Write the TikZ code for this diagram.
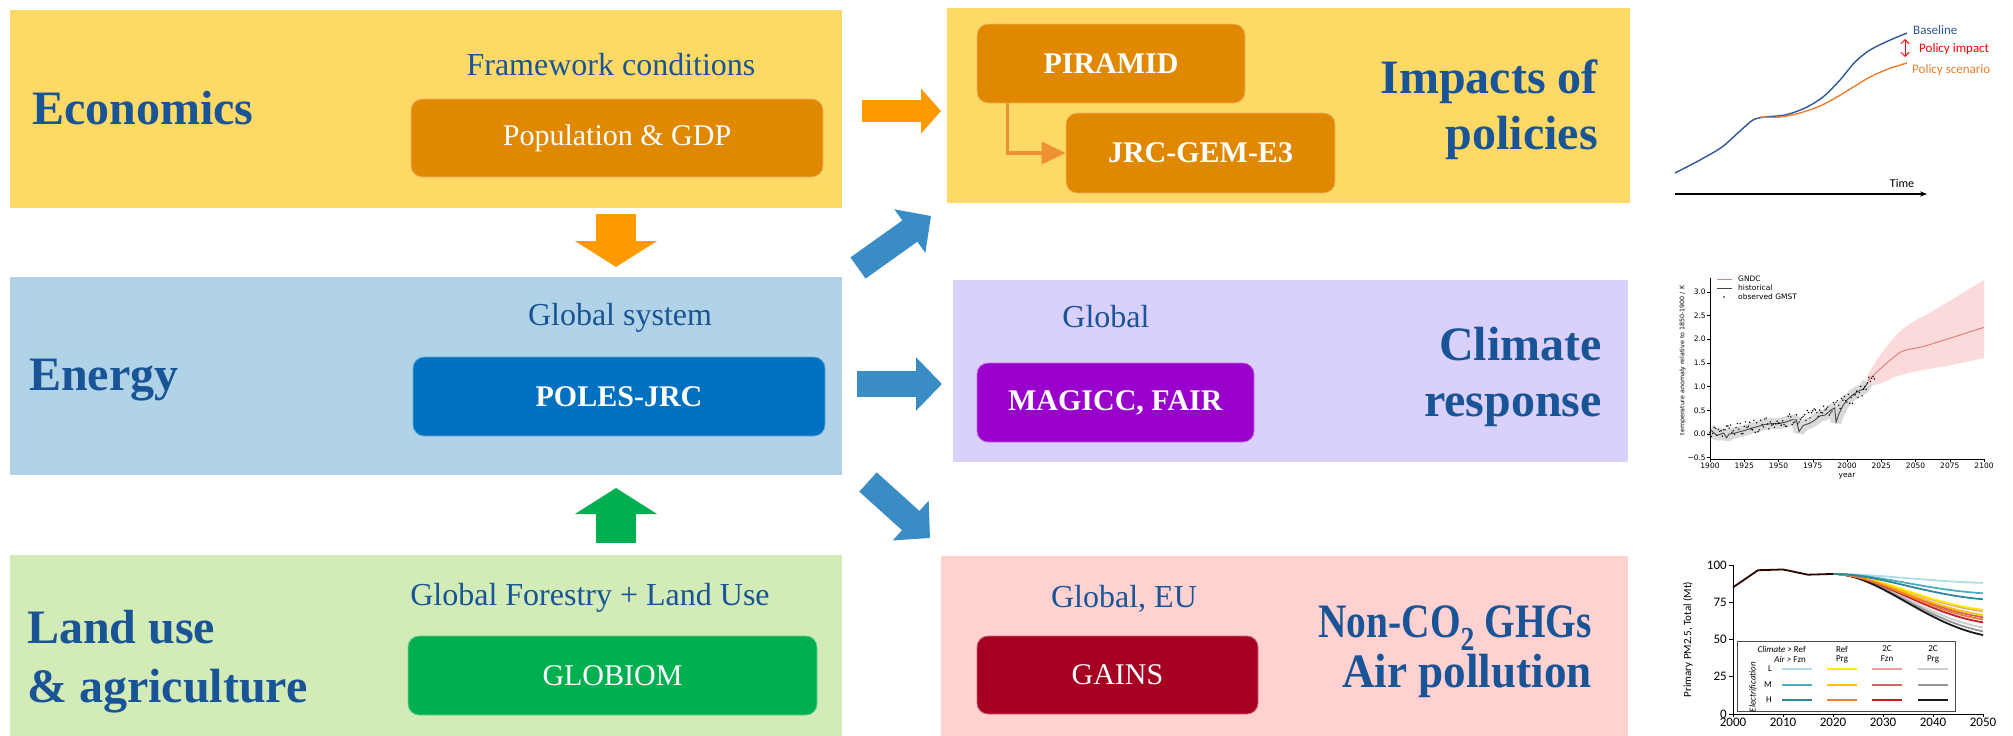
\documentclass[tikz,border=0pt]{standalone}
\usepackage{fontspec}
\setmainfont{Liberation Serif}
\newfontfamily\chartfont{Carlito}
\newfontfamily\plotfont{DejaVu Sans}
\usetikzlibrary{arrows.meta,positioning}

\definecolor{econbg}{RGB}{255,217,102}
\definecolor{econbox}{RGB}{224,137,0}
\definecolor{econarrow}{RGB}{255,153,0}
\definecolor{energybg}{RGB}{177,211,231}
\definecolor{energybox}{RGB}{0,112,192}
\definecolor{flowblue}{RGB}{58,141,196}
\definecolor{landbg}{RGB}{210,235,183}
\definecolor{landbox}{RGB}{0,176,80}
\definecolor{climbg}{RGB}{218,208,252}
\definecolor{climbox}{RGB}{153,0,204}
\definecolor{pollbg}{RGB}{255,209,209}
\definecolor{pollbox}{RGB}{165,0,33}
\definecolor{titleblue}{RGB}{24,84,150}
\definecolor{linkorange}{RGB}{237,145,51}
\definecolor{baseblue}{RGB}{47,85,151}
\definecolor{scenorange}{RGB}{237,125,49}
\definecolor{gndc}{RGB}{228,120,120}
\definecolor{gndcband}{RGB}{250,218,218}
\definecolor{pmA1}{RGB}{173,222,230}
\definecolor{pmA2}{RGB}{75,172,198}
\definecolor{pmA3}{RGB}{49,133,155}
\definecolor{pmB1}{RGB}{255,236,0}
\definecolor{pmB2}{RGB}{255,192,0}
\definecolor{pmB3}{RGB}{237,125,49}
\definecolor{pmC1}{RGB}{232,160,160}
\definecolor{pmC2}{RGB}{210,100,100}
\definecolor{pmC3}{RGB}{200,30,40}
\definecolor{pmD1}{RGB}{205,205,205}
\definecolor{pmD2}{RGB}{150,150,150}
\definecolor{pmD3}{RGB}{25,25,25}

\tikzset{
  panel/.style={fill=#1, inner sep=0pt},
  model/.style={fill=#1, draw=#1!60!white, line width=0.8pt, rounded corners=11pt,
    text=white, inner sep=0pt, font=\fontsize{30}{30}\selectfont},
  bigtitle/.style={text=titleblue, inner sep=0pt, font=\fontsize{48}{56}\selectfont\bfseries},
  subtitle/.style={text=titleblue, inner sep=0pt, font=\fontsize{32}{32}\selectfont},
  fatarrow/.style={flowblue, line width=26pt, -{Triangle[length=26pt,width=52pt]}},
  vertarrow/.style={line width=40pt, -{Triangle[length=26pt,width=81pt]}},
  link/.style={linkorange, line width=3.5pt, -{Triangle[length=24pt,width=22pt]}}
}

\begin{document}
\begin{tikzpicture}[x=1pt,y=-1pt]
\useasboundingbox (0,0) rectangle (2013,736);

% left column
\node[panel=econbg, minimum width=832pt, minimum height=198pt] (econ) at (426,109) {};
\node[panel=energybg, minimum width=832pt, minimum height=198pt] (energy) at (426,376) {};
\node[panel=landbg, minimum width=832pt, minimum height=181pt] (land) at (426,645.5) {};

\node[bigtitle, anchor=west] at (32,108) {Economics};
\node[subtitle] at (611,65) {Framework conditions};
\node[model=econbox, minimum width=412pt, minimum height=78pt] (pop) at (617,138) {Population \& GDP};

\node[bigtitle, anchor=west] at (29,380) {Energy};
\node[subtitle] at (620,318) {Global system};
\node[model=energybox, minimum width=412pt, minimum height=79pt] (poles) at (619,396.5) {\textbf{POLES-JRC}};

\node[bigtitle, anchor=west, align=left, font=\fontsize{48}{59}\selectfont\bfseries] at (27,662) {Land use\\\& agriculture};
\node[subtitle] at (590,598) {Global Forestry + Land Use};
\node[model=landbox, minimum width=409pt, minimum height=79pt] (globiom) at (612.5,675.5) {GLOBIOM};

% right column
\node[panel=econbg, minimum width=683pt, minimum height=195pt] (impact) at (1288.5,105.5) {};
\node[panel=climbg, minimum width=675pt, minimum height=182pt] (climate) at (1290.5,371) {};
\node[panel=pollbg, minimum width=687pt, minimum height=180pt] (pollution) at (1284.5,646) {};

\node[model=econbox, minimum width=268pt, minimum height=79pt] (piramid) at (1111,63.5) {\textbf{PIRAMID}};
\node[model=econbox, minimum width=269pt, minimum height=80pt] (gem) at (1200.5,153) {\textbf{JRC-GEM-E3}};
\draw[link] ([xshift=31pt]piramid.south west) |- (gem.west);
\node[bigtitle, anchor=east, align=right] at (1598,110) {Impacts of\\policies};

\node[subtitle] at (1106,317) {Global};
\node[model=climbox, minimum width=277pt, minimum height=79pt] (magicc) at (1115.5,402.5) {\textbf{MAGICC, FAIR}};
\node[bigtitle, anchor=east, align=right] at (1602,377) {Climate\\response};

\node[subtitle] at (1124,599) {Global, EU};
\node[model=pollbox, minimum width=281pt, minimum height=78pt] (gains) at (1117.5,675) {GAINS};
\node[bigtitle, anchor=east, xscale=0.82] at (1592,628) {Non-CO\textsubscript{2} GHGs};
\node[bigtitle, anchor=east, xscale=0.94] at (1592,676) {Air pollution};

% arrows
\coordinate (econout) at (862,111);
\coordinate (impactin) at (941,111);
\coordinate (econdown) at (616,214);
\coordinate (energytop) at (616,267);
\coordinate (landup) at (616,543);
\coordinate (energybot) at (616,488);
\coordinate (energyout) at (857,384);
\coordinate (climatein) at (942,384);
\coordinate (upfrom) at (858,268);
\coordinate (upto) at (931,216);
\coordinate (downfrom) at (868,482);
\coordinate (downto) at (930,538);
\draw[econarrow, line width=22pt, -{Triangle[length=20pt,width=44pt]}] (econout) -- (impactin);
\draw[econarrow, vertarrow] (econdown) -- (energytop);
\draw[landbox, vertarrow] (landup) -- (energybot);
\draw[fatarrow] (energyout) -- (climatein);
\draw[fatarrow] (upfrom) -- (upto);
\draw[fatarrow] (downfrom) -- (downto);

% policy impact sketch
\draw[line width=1.2pt, -{Stealth[length=7pt]}] (1675,194) -- (1927,194);
\node[font=\chartfont\fontsize{12}{12}\selectfont] at (1902,183) {Time};
\draw[baseblue, line width=1.4pt] plot[smooth] coordinates {(1675,173) (1700,160) (1722,147) (1740,131) (1753,120) (1765,117) (1785,115) (1805,108) (1823,97) (1840,80) (1855,62) (1870,50) (1888,41) (1907,33)};
\draw[scenorange, line width=1.4pt] plot[smooth] coordinates {(1760,117) (1780,117) (1800,113) (1820,106) (1837,97) (1855,86) (1870,77) (1888,69) (1907,63)};
\draw[red, line width=1pt, {Straight Barb[length=4pt]}-{Straight Barb[length=4pt]}] (1905,39) -- (1905,57);
\node[anchor=west, inner sep=0pt, text=baseblue, font=\chartfont\fontsize{13}{13}\selectfont] at (1913,30) {Baseline};
\node[anchor=west, inner sep=0pt, text=red, font=\chartfont\fontsize{13}{13}\selectfont] at (1919,49) {Policy impact};
\node[anchor=west, inner sep=0pt, text=scenorange, font=\chartfont\fontsize{13}{13}\selectfont] at (1912,70) {Policy scenario};

% temperature chart
\begin{scope}[shift={(1710,434)}, x=1.37pt, y={(0pt,47.4pt)}, font=\plotfont\fontsize{7.5}{7.5}\selectfont]
  \fill[gndcband] plot[smooth] coordinates {(115,1.25) (125,1.7) (138,2.15) (150,2.4) (163,2.6) (200,3.25)}
    -- plot[smooth] coordinates {(200,1.6) (175,1.45) (150,1.32) (135,1.2) (126,1.08) (115,1.0)} -- cycle;
  \path[preaction={draw, gray!30, line width=11pt, line join=bevel}, draw=gray!55!black, line width=0.9pt]
    plot coordinates {(0,0.1) (3,0.02) (5,-0.03) (8,0.0) (10,0.02) (12,-0.08) (14,0.0) (18,0.02) (22,0.05) (26,0.08) (30,0.12) (35,0.16) (40,0.2) (45,0.22) (50,0.22) (55,0.25) (60,0.3) (63,0.3) (65,0.05) (68,0.18) (72,0.22) (76,0.28) (80,0.38) (84,0.4) (88,0.5) (91,0.55) (92,0.25) (94,0.42) (97,0.6) (100,0.72) (104,0.82) (108,0.9) (112,0.95) (115,1.08)};
  \draw[gndc, line width=0.9pt] plot[smooth] coordinates {(115,1.12) (126,1.42) (140,1.74) (155,1.84) (175,2.02) (200,2.25)};
  \pgfmathsetseed{7}
  \foreach \i in {0,...,120}
    \fill (\i,{0.6*\i/120+0.6*(\i/120)^6+0.13*rand}) circle[radius=0.8pt];
  \draw[line width=0.6pt] (0,3.3) -- (0,-0.53) -- (200,-0.53);
  \foreach \v/\t in {-0.5/−0.5, 0/0.0, 0.5/0.5, 1/1.0, 1.5/1.5, 2/2.0, 2.5/2.5, 3/3.0}
    \draw[line width=0.5pt] (0,\v) -- ++(-3pt,0) node[left, inner sep=1pt] {\t};
  \foreach \yr in {0,25,...,200} {
    \pgfmathtruncatemacro\lab{1900+\yr}
    \draw[line width=0.5pt] (\yr,-0.53) -- ++(0,-3pt) node[below, inner sep=1pt] {\lab};
  }
  \node at (100,-0.88) {year};
  \node[rotate=90, font=\plotfont\fontsize{6.3}{6.3}\selectfont] at (-20,1.55) {temperature anomaly relative to 1850-1900 / K};
\end{scope}
\draw[gndc, line width=0.9pt] (1717,279) -- (1732,279);
\draw[gray!55!black, line width=0.9pt] (1717,288) -- (1732,288);
\fill (1724,297) circle[radius=0.8pt];
\node[anchor=west, inner sep=0pt, font=\plotfont\fontsize{7.5}{7.5}\selectfont] at (1738,279) {GNDC};
\node[anchor=west, inner sep=0pt, font=\plotfont\fontsize{7.5}{7.5}\selectfont] at (1738,288) {historical};
\node[anchor=west, inner sep=0pt, font=\plotfont\fontsize{7.5}{7.5}\selectfont] at (1738,297) {observed GMST};

% PM2.5 chart
\begin{scope}[shift={(1733,714)}, x=5pt, y={(0pt,1.49pt)}, font=\chartfont\fontsize{13}{13}\selectfont]
  \foreach \c/\e in {pmD1/58, pmD2/55.5, pmD3/53, pmC1/69, pmC2/65, pmC3/61.5, pmB1/70, pmB2/66.5, pmB3/63.5, pmA1/88, pmA2/81, pmA3/77}
    \draw[\c, line width=1.8pt] (20,94) .. controls (29,94) and (38,{\e+0.2*(94-\e)}) .. (50,\e);
  \draw[black!70!red!60!black, line width=1.8pt] (0,85) -- (5,96.5) -- (10,97) -- (15,93.5) -- (20,94);
  \draw[line width=0.6pt] (0,100) -- (0,0) -- (50,0);
  \foreach \v in {0,25,50,75,100}
    \draw[line width=0.6pt] (0,\v) -- ++(-4pt,0) node[left, inner sep=2pt] {\v};
  \foreach \yr in {0,10,...,50} {
    \pgfmathtruncatemacro\lab{2000+\yr}
    \draw[line width=0.6pt] (\yr,0) -- ++(0,-3pt) node[below, inner sep=1pt] {\lab};
  }
  \node[rotate=90, font=\chartfont\fontsize{11}{11}\selectfont] at (-9,50) {Primary PM2.5, Total (Mt)};
\end{scope}
\draw[black!70, fill=white, line width=0.6pt] (1737,641) rectangle (1955,711);
\begin{scope}[font=\chartfont\fontsize{9}{9}\selectfont, inner sep=0pt]
  \node[anchor=east] at (1806,649) {\textit{Climate} > Ref};
  \node[anchor=east] at (1806,659) {\textit{Air} > Fzn};
  \node at (1842,649) {Ref};
  \node at (1842,659) {Prg};
  \node at (1887,649) {2C};
  \node at (1887,659) {Fzn};
  \node at (1933,649) {2C};
  \node at (1933,659) {Prg};
  \node at (1770,669) {L};
  \node at (1768,685) {M};
  \node at (1769,700) {H};
  \node[rotate=90] at (1753,687) {\textit{Electrification}};
\end{scope}
\foreach \col/\xa in {A/1782, B/1827, C/1872, D/1918}
  \foreach \row/\yy in {1/669, 2/685, 3/700}
    \draw[pm\col\row, line width=2pt] (\xa,\yy) -- ++(30,0);
\end{tikzpicture}
\end{document}
